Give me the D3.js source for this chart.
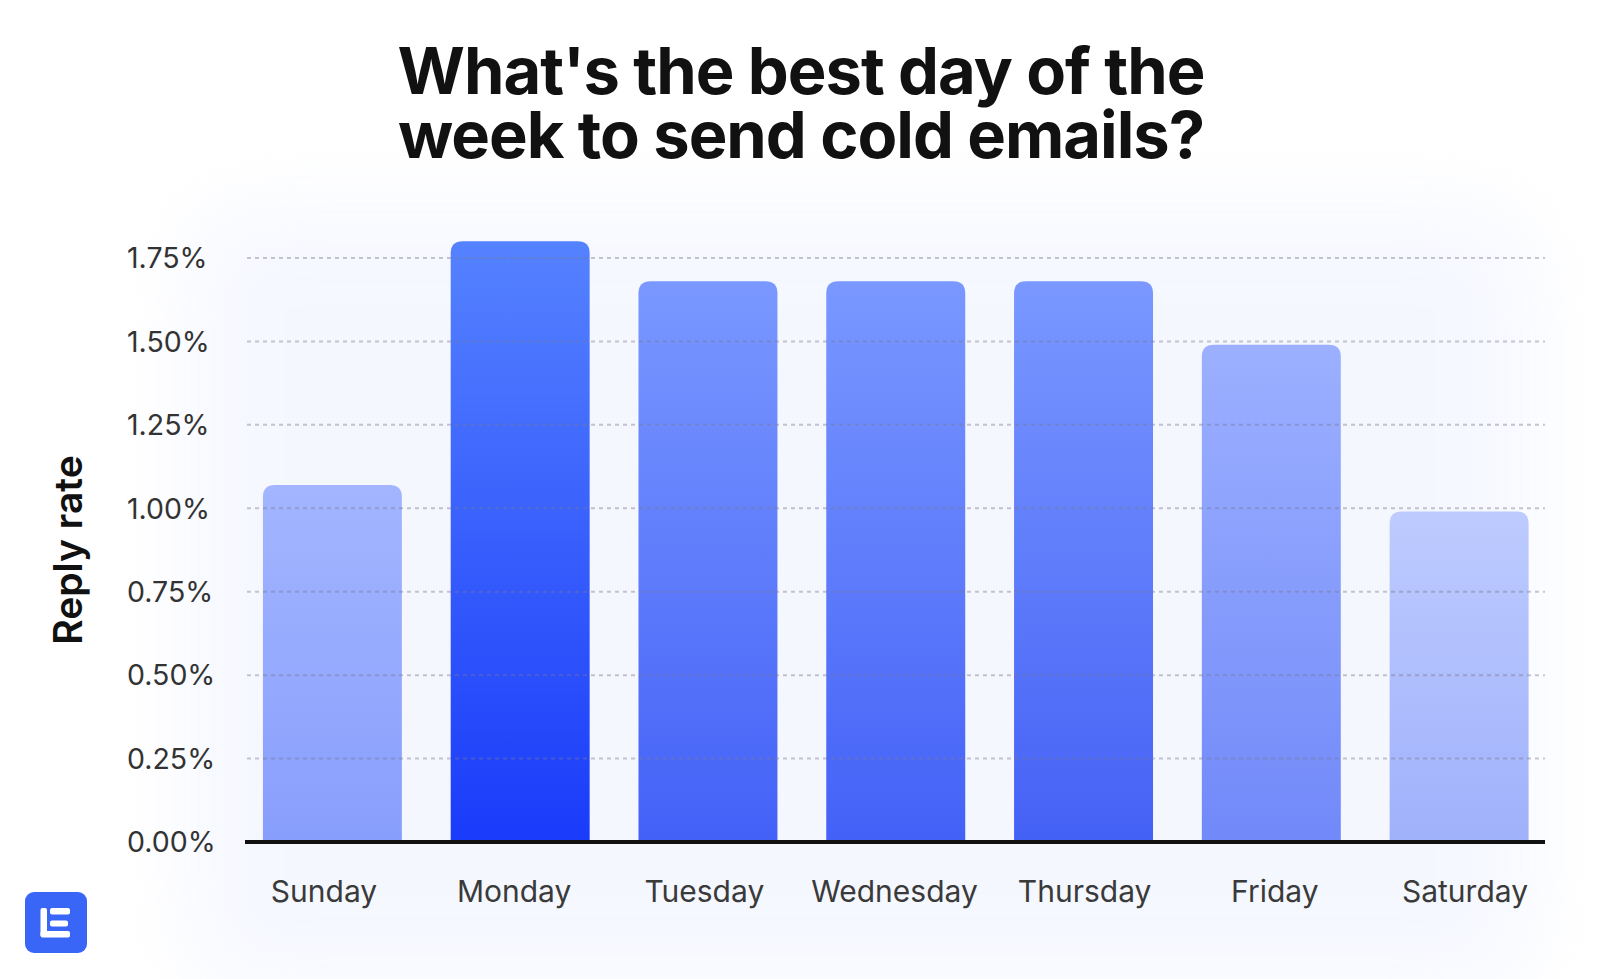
<!DOCTYPE html>
<html>
<head>
<meta charset="utf-8">
<script src="https://cdn.jsdelivr.net/npm/d3@7/dist/d3.min.js"></script>
<style>
  html, body { margin: 0; padding: 0; background: #ffffff; }
  svg { display: block; }
</style>
</head>
<body>
<svg id="chart" width="1600" height="979"></svg>
<script>
// ---- data ----
const days = ["Sunday", "Monday", "Tuesday", "Wednesday", "Thursday", "Friday", "Saturday"];
const replyRate = [1.07, 1.80, 1.68, 1.68, 1.68, 1.49, 0.99];
const yTicks = [0, 0.25, 0.5, 0.75, 1.0, 1.25, 1.5, 1.75];
const topColors = ["#a3b5ff", "#5582ff", "#7a98ff", "#7a98ff", "#7a98ff", "#9cb0ff", "#bdcbff"];
const bottomColors = ["#889efc", "#1a3bfa", "#4361f7", "#4361f7", "#4461f6", "#7189f9", "#a0b1fb"];
const titleLines = ["What's the best day of the", "week to send cold emails?"];
const yTitle = "Reply rate";

// ---- layout ----
const svg = d3.select("#chart");
const defs = svg.append("defs");

const x = d3.scaleBand().domain(days).range([238.5, 1553]).paddingInner(0.26).paddingOuter(0.13);
const xLabel = d3.scalePoint().domain(days).range([324, 1465]);
const y = d3.scaleLinear().domain([0, 1.75]).range([842, 258]);

// soft background glow
const blur = defs.append("filter").attr("id", "glow").attr("x", "-20%").attr("y", "-20%").attr("width", "140%").attr("height", "140%");
blur.append("feGaussianBlur").attr("stdDeviation", 40);
svg.append("rect")
  .attr("x", 190).attr("y", 210).attr("width", 1340).attr("height", 780)
  .attr("rx", 60)
  .attr("fill", "#eef2ff").attr("opacity", 0.55)
  .attr("filter", "url(#glow)");

// title
svg.append("g").selectAll("text").data(titleLines).join("text")
  .attr("x", 801).attr("y", (d, i) => 94 + i * 64)
  .attr("text-anchor", "middle")
  .attr("font-family", "Inter, 'Noto Sans', sans-serif")
  .attr("font-weight", 700)
  .attr("font-size", 65)
  .attr("letter-spacing", "-1px")
  .attr("fill", "#111111")
  .text(d => d);

// gradients
days.forEach((d, i) => {
  const g = defs.append("linearGradient").attr("id", "grad" + i)
    .attr("x1", 0).attr("y1", 0).attr("x2", 0).attr("y2", 1);
  g.append("stop").attr("offset", "0%").attr("stop-color", topColors[i]);
  g.append("stop").attr("offset", "100%").attr("stop-color", bottomColors[i]);
});

// bars with rounded top
function topRounded(x0, y0, w, h, r) {
  return `M${x0},${y0 + h}V${y0 + r}Q${x0},${y0} ${x0 + r},${y0}H${x0 + w - r}Q${x0 + w},${y0} ${x0 + w},${y0 + r}V${y0 + h}Z`;
}
svg.append("g").selectAll("path").data(days).join("path")
  .attr("d", (d, i) => {
    const bx = x(d), by = y(replyRate[i]), bw = x.bandwidth(), bh = y(0) - y(replyRate[i]);
    return topRounded(bx, by, bw, bh, 12);
  })
  .attr("fill", (d, i) => `url(#grad${i})`);

// gridlines (drawn over bars, semi-transparent)
svg.append("g").selectAll("line").data(yTicks.filter(t => t > 0)).join("line")
  .attr("x1", 247).attr("x2", 1545)
  .attr("y1", d => y(d)).attr("y2", d => y(d))
  .attr("stroke", "#7a7a8a").attr("stroke-opacity", 0.42)
  .attr("stroke-width", 2).attr("stroke-dasharray", "4,4");

// y tick labels
svg.append("g").selectAll("text").data(yTicks).join("text")
  .attr("x", 127).attr("y", d => y(d))
  .attr("dy", "0.36em")
  .attr("font-family", "Inter, 'Noto Sans', sans-serif")
  .attr("font-size", 28.5)
  .attr("fill", "#333333")
  .text(d => d3.format(".2f")(d) + "%");

// baseline
svg.append("line")
  .attr("x1", 245).attr("x2", 1545)
  .attr("y1", y(0)).attr("y2", y(0))
  .attr("stroke", "#111111").attr("stroke-width", 4);

// x labels
svg.append("g").selectAll("text").data(days).join("text")
  .attr("x", d => xLabel(d))
  .attr("y", 902)
  .attr("text-anchor", "middle")
  .attr("font-family", "Inter, 'Noto Sans', sans-serif")
  .attr("font-size", 30)
  .attr("fill", "#3a3a3a")
  .text(d => d);

// y title
svg.append("text")
  .attr("transform", "translate(82,550) rotate(-90)")
  .attr("text-anchor", "middle")
  .attr("font-family", "Inter, 'Noto Sans', sans-serif")
  .attr("font-weight", 600)
  .attr("font-size", 39)
  .attr("fill", "#111111")
  .text(yTitle);

// logo
const logo = svg.append("g").attr("transform", "translate(25,892)");
logo.append("rect").attr("width", 62).attr("height", 61).attr("rx", 9).attr("fill", "#3a66f7");
logo.append("rect").attr("x", 15.5).attr("y", 16).attr("width", 6.5).attr("height", 29).attr("rx", 2).attr("fill", "#ffffff");
logo.append("rect").attr("x", 15.5).attr("y", 39).attr("width", 29.5).attr("height", 6.5).attr("rx", 2).attr("fill", "#ffffff");
logo.append("rect").attr("x", 25).attr("y", 16).attr("width", 20).attr("height", 6.5).attr("rx", 2).attr("fill", "#ffffff");
logo.append("rect").attr("x", 25).attr("y", 28.5).attr("width", 18).attr("height", 6).attr("rx", 2).attr("fill", "#ffffff");
</script>
</body>
</html>
